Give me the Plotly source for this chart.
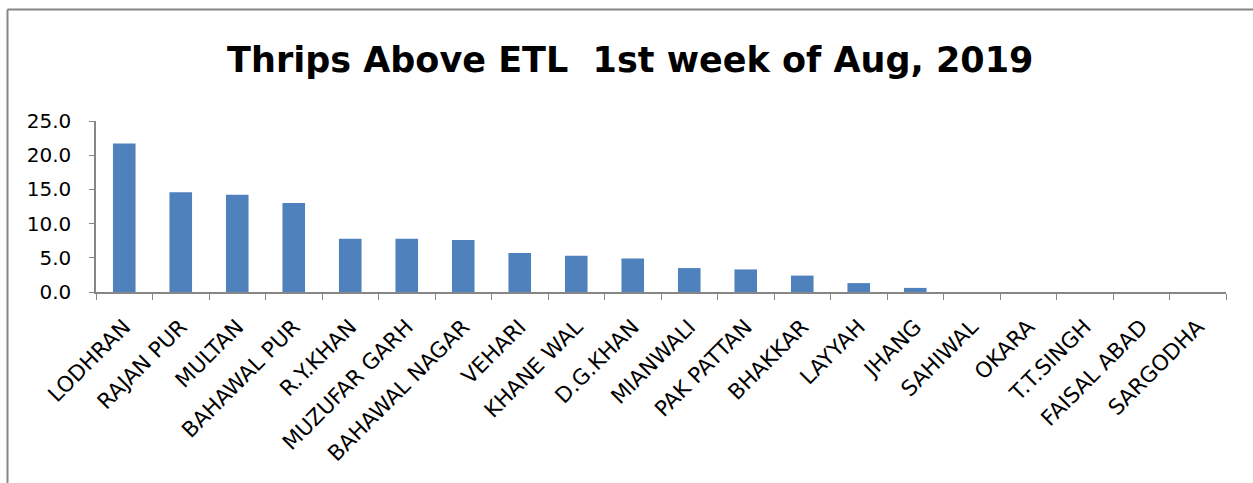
import plotly.graph_objects as go

districts = ["LODHRAN", "RAJAN PUR", "MULTAN", "BAHAWAL PUR", "R.Y.KHAN", "MUZUFAR GARH",
             "BAHAWAL NAGAR", "VEHARI", "KHANE WAL", "D.G.KHAN", "MIANWALI", "PAK PATTAN",
             "BHAKKAR", "LAYYAH", "JHANG", "SAHIWAL", "OKARA", "T.T.SINGH", "FAISAL ABAD", "SARGODHA"]
values = [21.7, 14.6, 14.2, 13.0, 7.8, 7.8, 7.6, 5.7, 5.3, 4.9, 3.5, 3.3, 2.4, 1.3, 0.6,
          0.0, 0.0, 0.0, 0.0, 0.0]
y_ticks = [0, 5, 10, 15, 20, 25]

FONT = "DejaVu Sans"
W, H = 1253, 483
ml, mr, mt, mb = 96, 27, 121, 191

fig = go.Figure(go.Bar(x=districts, y=values, marker_color="#4F81BD",
                       marker_line_width=0))

fig.update_layout(
    width=W, height=H,
    margin=dict(l=ml, r=mr, t=mt, b=mb),
    paper_bgcolor="white", plot_bgcolor="white",
    bargap=0.6,
    showlegend=False,
    title=dict(text="<b>Thrips Above ETL  1st week of Aug, 2019</b>",
               x=0.503, xanchor="center", y=1 - 60 / H, yanchor="middle",
               font=dict(family=FONT, size=35, color="black")),
    xaxis=dict(tickangle=-45, tickson="boundaries", ticks="outside", ticklen=6,
               tickcolor="#868686", showline=True, linecolor="#868686", linewidth=1.5,
               ticklabelstandoff=12,
               tickfont=dict(family=FONT, size=21.5, color="black"), showgrid=False),
    yaxis=dict(range=[0, 25], tickvals=y_ticks, tickformat=".1f", ticks="outside",
               ticklen=5, tickcolor="#868686", showline=True, linecolor="#868686",
               linewidth=1.5, showgrid=False, zeroline=False, ticklabelstandoff=14,
               tickfont=dict(family=FONT, size=20, color="black")),
)

pw = W - ml - mr
ph = H - mt - mb
def px_x(p):
    return (p - ml) / pw
def px_y(p):
    return 1 - (p - mt) / ph

fig.add_shape(type="line", xref="paper", yref="paper",
              x0=px_x(7.5), x1=px_x(W + 5), y0=px_y(9.5), y1=px_y(9.5),
              line=dict(color="#868686", width=2))
fig.add_shape(type="line", xref="paper", yref="paper",
              x0=px_x(7.5), x1=px_x(7.5), y0=px_y(9.5), y1=px_y(H + 5),
              line=dict(color="#868686", width=2))

fig.write_html("out.html", config={"displayModeBar": False},
               post_script="document.body.style.margin='0';document.body.style.overflow='hidden';")
